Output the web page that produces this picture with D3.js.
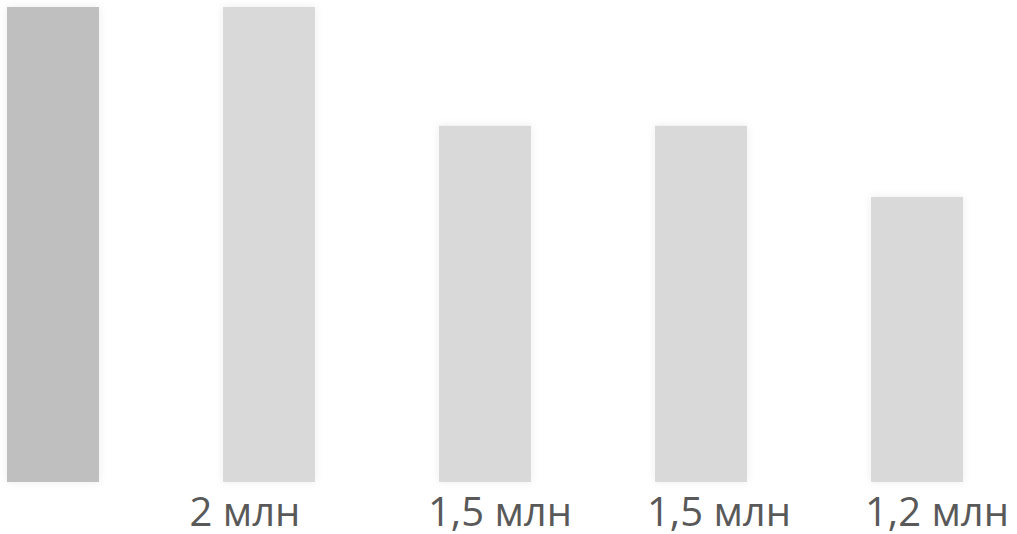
<!DOCTYPE html>
<html>
<head>
<meta charset="utf-8">
<script src="https://cdn.jsdelivr.net/npm/d3@7"></script>
<style>
  html, body { margin: 0; padding: 0; background: #ffffff; }
  svg { display: block; }
</style>
</head>
<body>
<svg id="chart" width="1017" height="534"></svg>
<script>
// ---- data ----
const categories = ["1", "2", "3", "4", "5"];
const values = [2, 2, 1.5, 1.5, 1.2];            // млн
const valueLabels = ["", "2 млн", "1,5 млн", "1,5 млн", "1,2 млн"];
const barColors = ["#bfbfbf", "#d9d9d9", "#d9d9d9", "#d9d9d9", "#d9d9d9"];

// ---- layout ----
const W = 1017, H = 534;
const svg = d3.select("#chart");

const x = d3.scaleBand()
  .domain(categories)
  .range([7, 963])
  .paddingInner(0.574)
  .paddingOuter(0);

const y = d3.scaleLinear()
  .domain([0, 2])
  .range([482, 7]);

// soft glow shadow
const defs = svg.append("defs");
const f = defs.append("filter").attr("id", "glow")
  .attr("x", "-20%").attr("y", "-20%").attr("width", "140%").attr("height", "140%");
f.append("feDropShadow")
  .attr("dx", 0).attr("dy", 0)
  .attr("stdDeviation", 4)
  .attr("flood-color", "#000")
  .attr("flood-opacity", 0.08);

// faint bottom shade
const grad = defs.append("linearGradient").attr("id", "bottomShade")
  .attr("x1", 0).attr("y1", 0).attr("x2", 0).attr("y2", 1);
grad.append("stop").attr("offset", "0%").attr("stop-color", "#000").attr("stop-opacity", 0);
grad.append("stop").attr("offset", "100%").attr("stop-color", "#000").attr("stop-opacity", 0.04);

svg.selectAll("rect.bar")
  .data(categories)
  .join("rect")
  .attr("class", "bar")
  .attr("x", d => x(d))
  .attr("y", (d, i) => y(values[i]))
  .attr("width", x.bandwidth())
  .attr("height", (d, i) => y(0) - y(values[i]))
  .attr("fill", (d, i) => barColors[i])
  .attr("filter", "url(#glow)");

// label nudges (layout only)
const labelDx = [0, -24, 15, 18, 20];

svg.selectAll("text.lbl")
  .data(categories)
  .join("text")
  .attr("class", "lbl")
  .attr("x", (d, i) => x(d) + x.bandwidth() / 2 + labelDx[i])
  .attr("y", 526)
  .attr("text-anchor", "middle")
  .attr("font-family", "'Open Sans', 'Noto Sans', sans-serif")
  .attr("font-size", 40)
  .attr("fill", "#595959")
  .text((d, i) => valueLabels[i]);
</script>
</body>
</html>
